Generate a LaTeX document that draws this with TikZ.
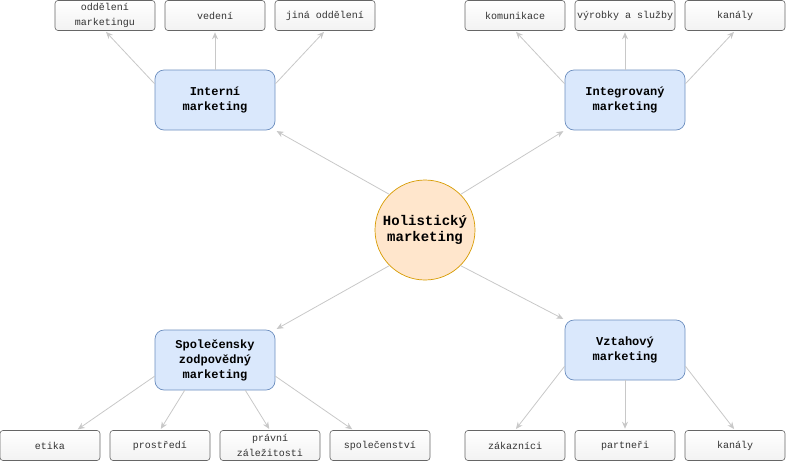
\documentclass[tikz,border=0pt]{standalone}
\usepackage{fontspec}
\setmonofont{Liberation Mono}
\usetikzlibrary{arrows.meta,positioning,calc}
\definecolor{hubFill}{HTML}{DAE8FC}
\definecolor{hubLine}{HTML}{6C8EBF}
\definecolor{coreFill}{HTML}{FFE6CC}
\definecolor{coreLine}{HTML}{D79B00}
\definecolor{leafLine}{HTML}{666666}
\definecolor{leafText}{HTML}{333333}
\definecolor{linkCol}{HTML}{C8C8C8}

\begin{document}
\begin{tikzpicture}[x=1pt,y=-1pt,
  leaf/.style={draw=leafLine,line width=0.6pt,rounded corners=3pt,top color=white,bottom color=black!5,
    minimum width=100pt,minimum height=30pt,inner sep=0pt,align=center,text=leafText,
    font=\ttfamily\fontsize{10}{15}\selectfont},
  hub/.style={draw=hubLine,line width=0.7pt,rounded corners=9pt,fill=hubFill,minimum width=120pt,
    minimum height=60pt,inner sep=0pt,align=center,font=\ttfamily\bfseries\fontsize{12}{15}\selectfont},
  core/.style={circle,draw=coreLine,line width=0.7pt,fill=coreFill,minimum size=100pt,inner sep=0pt,
    align=center,font=\ttfamily\bfseries\fontsize{14}{15.5}\selectfont},
  link/.style={draw=linkCol,line width=0.8pt,-{Stealth[length=7pt,width=6pt]},shorten >=1.5pt}]
  \useasboundingbox (0,0) rectangle (786,461);
  % centre
  \node[core] (holist) at (425,230) {Holistický\\marketing};
  % four kinds
  \node[hub] (interni) at (215,100) {Interní\\marketing};
  \node[hub] (integ) at (625,100) {Integrovaný\\marketing};
  \node[hub] (spolec) at (215,360) {Společensky\\zodpovědný\\marketing};
  \node[hub] (vztah) at (625,350) {Vztahový\\marketing};
  % top row
  \node[leaf] (odd) at (105,15.5) {oddělení\\marketingu};
  \node[leaf] (vedeni) at (215,15.5) {vedení};
  \node[leaf] (jina) at (325,15.5) {jiná oddělení};
  \node[leaf] (komun) at (515,15.5) {komunikace};
  \node[leaf] (vyrob) at (625,15.5) {výrobky a služby};
  \node[leaf] (kanalyA) at (735,15.5) {kanály};
  % bottom row
  \node[leaf] (etika) at (50,445.5) {etika};
  \node[leaf] (prostr) at (160,445.5) {prostředí};
  \node[leaf] (pravni) at (270,445.5) {právní\\záležitosti};
  \node[leaf] (spolst) at (380,445.5) {společenství};
  \node[leaf] (zakaz) at (515,445.5) {zákazníci};
  \node[leaf] (partn) at (625,445.5) {partneři};
  \node[leaf] (kanalyB) at (735,445.5) {kanály};
  % connectors
  \foreach \s/\t in {holist.135/interni.south east,holist.45/integ.south west,
      holist.225/spolec.north east,holist.-45/vztah.north west,
      interni.165/odd.south,interni.north/vedeni.south,interni.15/jina.south,
      integ.165/komun.south,integ.north/vyrob.south,integ.15/kanalyA.south,
      spolec.195/etika.30,spolec.225/prostr.north,spolec.-45/pravni.north,spolec.-15/spolst.150,
      vztah.195/zakaz.north,vztah.south/partn.north,vztah.-15/kanalyB.north}
    \draw[link] (\s) -- (\t);
\end{tikzpicture}
\end{document}
